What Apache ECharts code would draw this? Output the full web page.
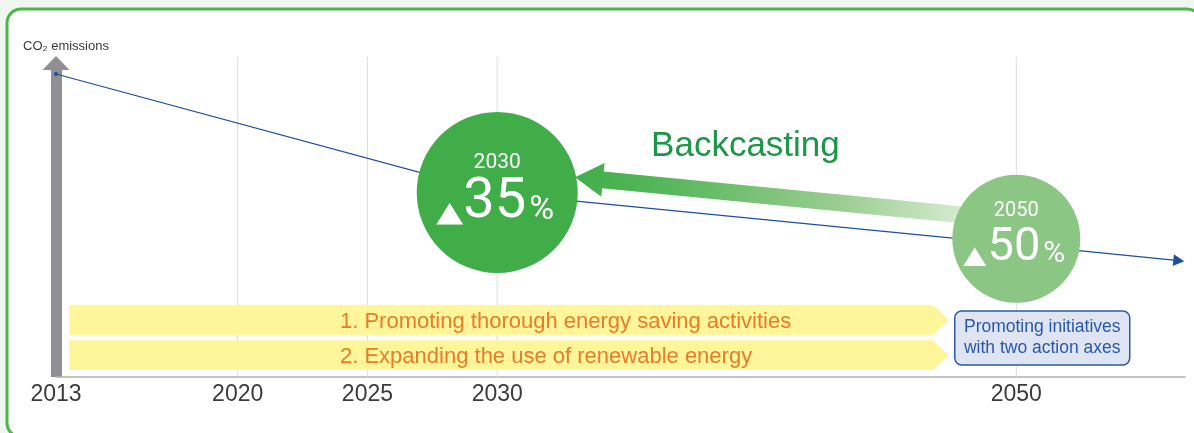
<!DOCTYPE html>
<html>
<head>
<meta charset="utf-8">
<script src="https://cdn.jsdelivr.net/npm/echarts@6/dist/echarts.min.js"></script>
<style>
  html, body { margin: 0; padding: 0; background: #f0f7ef; }
  #chart { width: 1194px; height: 433px; }
</style>
</head>
<body>
<div id="chart"></div>
<script>
// axis
const axisYears = [2013, 2020, 2025, 2030, 2050];
const gridYears = [2020, 2025, 2030, 2050];

// CO2 emission path (index, 2013 origin near top of axis)
const emissionYears = [2013, 2030, 2050, 2056.26];
const emissionLevels = [98.7, 59.8, 43.2, 37.9];

// reduction targets
const targetYears = [2030, 2050];
const targetLevels = [60.1, 45.0];
const targetCuts = [35, 50];

// backcasting arrow (from 2050 target back to 2030)
const backcastFrom = [2050, 51.1];
const backcastTo = [2033, 65.1];
const backcastLabel = "Backcasting";

// the two action axes
const actionLabels = [
  "1. Promoting thorough energy saving activities",
  "2. Expanding the use of renewable energy",
];
const actionStart = [2013.5, 2013.5];
const actionEnd = [2047.4, 2047.4];
const actionTop = [23.5, 12.0];
const actionBottom = [13.7, 2.3];

const noteText = "Promoting initiatives\nwith two action axes";
const notePoint = [2051, 12.7];

// styles
const FONT = "'Liberation Sans', Arial, sans-serif";
const circleStyle = [
  {
    r: 80.5, color: "#41ad49",
    year: { size: 21, dy: -30 },
    tri: { size: 35, dx: -34, dy: 21 },
    num: { size: 56, dx: 29, dy: 10.5 },
    pct: { size: 34, dx: 32, dy: 18 },
  },
  {
    r: 64, color: "#8cc684",
    year: { size: 20, dy: -28 },
    tri: { size: 30, dx: -30, dy: 17.5 },
    num: { size: 47, dx: 24, dy: 9.5 },
    pct: { size: 30, dx: 27, dy: 15.5 },
  },
];

const chart = echarts.init(document.getElementById("chart"));

const emissionData = emissionYears.map((yr, i) => {
  const item = { value: [yr, emissionLevels[i]], symbol: "none" };
  if (i === 0) {
    item.symbol = "circle";
    item.symbolSize = 4;
  } else if (i === emissionYears.length - 1) {
    item.symbol = "triangle";
    item.symbolSize = [12, 11];
    item.symbolRotate = -95.6;
  }
  return item;
});

const whiteText = (x, y, text, font, align) => ({
  type: "text",
  style: { x, y, text, font, fill: "#ffffff", align, verticalAlign: "middle" },
});

const options = {
  animation: false,
  backgroundColor: "#f0f7ef",
  graphic: [
    {
      type: "rect",
      z: -10,
      shape: { x: 7, y: 9, width: 1194, height: 428, r: 14 },
      style: { fill: "#ffffff", stroke: "#4cb64a", lineWidth: 3 },
    },
    {
      type: "text",
      left: 23,
      top: 40,
      style: { text: "CO₂ emissions", font: "13px " + FONT, fill: "#3a3a3a" },
    },
  ],
  grid: { left: 56, right: 9, top: 70, bottom: 56 },
  xAxis: {
    type: "value",
    min: 2013,
    max: 2056.5,
    axisLine: { lineStyle: { color: "#b0b0b0", width: 1.5 } },
    axisTick: { show: false },
    splitLine: { show: false },
    axisLabel: {
      customValues: axisYears,
      fontSize: 23,
      fontFamily: FONT,
      color: "#3b3b3b",
      margin: 6,
      formatter: (v) => String(v),
    },
  },
  yAxis: {
    type: "value",
    min: 0,
    max: 100,
    axisLine: {
      show: true,
      symbol: ["none", "triangle"],
      symbolSize: [27, 14],
      symbolOffset: [0, 7],
      lineStyle: { color: "#909094", width: 11, cap: "butt" },
    },
    axisTick: { show: false },
    axisLabel: { show: false },
    splitLine: { show: false },
  },
  series: [
    {
      name: "Guides",
      type: "custom",
      z: 1,
      silent: true,
      data: gridYears.map((yr) => [yr, 0]),
      renderItem: (params, api) => {
        const x = api.coord([api.value(0), 0])[0];
        const cs = params.coordSys;
        return {
          type: "line",
          shape: { x1: x, y1: cs.y - 13, x2: x, y2: cs.y + cs.height },
          style: { stroke: "#dcdcdc", lineWidth: 1 },
        };
      },
    },
    {
      name: "CO2 emissions",
      type: "line",
      z: 2,
      symbol: "circle",
      showAllSymbol: true,
      data: emissionData,
      itemStyle: { color: "#1d4f9f" },
      lineStyle: { color: "#1d4f9f", width: 1.2 },
    },
    {
      name: "Actions",
      type: "custom",
      z: 3,
      silent: true,
      data: actionLabels.map((_, i) => [actionStart[i], actionEnd[i], actionTop[i], actionBottom[i], i]),
      encode: { x: [0, 1], y: [2, 3] },
      renderItem: (params, api) => {
        const p0 = api.coord([api.value(0), api.value(2)]);
        const p1 = api.coord([api.value(1), api.value(3)]);
        const tip = 16;
        const midY = (p0[1] + p1[1]) / 2;
        return {
          type: "group",
          children: [
            {
              type: "polygon",
              shape: {
                points: [
                  [p0[0], p0[1]],
                  [p1[0] - tip, p0[1]],
                  [p1[0], midY],
                  [p1[0] - tip, p1[1]],
                  [p0[0], p1[1]],
                ],
              },
              style: { fill: "#fff59b" },
            },
            {
              type: "text",
              style: {
                x: p0[0] + 271,
                y: midY + 2,
                text: actionLabels[api.value(4)],
                font: "22px " + FONT,
                fill: "#e87d28",
                align: "left",
                verticalAlign: "middle",
              },
            },
          ],
        };
      },
    },
    {
      name: "Backcasting",
      type: "custom",
      z: 4,
      silent: true,
      data: [[backcastFrom[0], backcastFrom[1], backcastTo[0], backcastTo[1]]],
      encode: { x: [0, 2], y: [1, 3] },
      renderItem: (params, api) => {
        const a = api.coord([api.value(0), api.value(1)]);
        const b = api.coord([api.value(2), api.value(3)]);
        const len = Math.hypot(b[0] - a[0], b[1] - a[1]);
        const d = [(b[0] - a[0]) / len, (b[1] - a[1]) / len];
        const n = [-d[1], d[0]];
        const hw = 8.5, headW = 17, headL = 28;
        const base = [b[0] - d[0] * headL, b[1] - d[1] * headL];
        const pt = (p, k) => [p[0] + n[0] * k, p[1] + n[1] * k];
        return {
          type: "group",
          children: [
            {
              type: "polygon",
              shape: {
                points: [pt(a, hw), pt(base, hw), pt(base, headW), b, pt(base, -headW), pt(base, -hw), pt(a, -hw)],
              },
              style: {
                fill: new echarts.graphic.LinearGradient(a[0], a[1], b[0], b[1], [
                  { offset: 0, color: "#e4f1e1" },
                  { offset: 0.15, color: "#d0e8ca" },
                  { offset: 0.4, color: "#9acd91" },
                  { offset: 0.8, color: "#56b65b" },
                  { offset: 1, color: "#41ad49" },
                ], true),
              },
            },
            {
              type: "text",
              style: {
                x: b[0] + 76,
                y: b[1] - 31,
                text: backcastLabel,
                font: "35px " + FONT,
                fill: "#1c9649",
                align: "left",
                verticalAlign: "middle",
              },
            },
          ],
        };
      },
    },
    {
      name: "Targets",
      type: "custom",
      z: 5,
      silent: true,
      data: targetYears.map((yr, i) => [yr, targetLevels[i], targetCuts[i], i]),
      renderItem: (params, api) => {
        const c = api.coord([api.value(0), api.value(1)]);
        const s = circleStyle[api.value(3)];
        return {
          type: "group",
          children: [
            {
              type: "circle",
              shape: { cx: c[0], cy: c[1], r: s.r },
              style: { fill: s.color },
            },
            whiteText(c[0], c[1] + s.year.dy, String(api.value(0)), s.year.size + "px Roboto", "center"),
            {
              type: "text",
              x: c[0] + s.tri.dx,
              y: c[1] + s.tri.dy,
              scaleY: 0.8,
              style: {
                x: 0, y: 0, text: "▲", font: s.tri.size + "px 'DejaVu Sans'",
                fill: "#ffffff", align: "right", verticalAlign: "middle",
              },
            },
            whiteText(c[0] + s.num.dx, c[1] + s.num.dy, String(api.value(2)), s.num.size + "px Roboto", "right"),
            whiteText(c[0] + s.pct.dx, c[1] + s.pct.dy, "%", s.pct.size + "px Roboto", "left"),
          ],
        };
      },
    },
    {
      name: "Note",
      type: "custom",
      z: 6,
      silent: true,
      data: [notePoint],
      renderItem: (params, api) => {
        const c = api.coord([api.value(0), api.value(1)]);
        const w = 175, h = 54;
        return {
          type: "group",
          children: [
            {
              type: "rect",
              shape: { x: c[0] - w / 2, y: c[1] - h / 2, width: w, height: h, r: 7 },
              style: { fill: "#dfe4f3", stroke: "#2c5aa5", lineWidth: 1.5 },
            },
            {
              type: "text",
              style: {
                x: c[0],
                y: c[1],
                text: noteText,
                font: "17.5px " + FONT,
                lineHeight: 21,
                fill: "#2b58a6",
                align: "center",
                verticalAlign: "middle",
              },
            },
          ],
        };
      },
    },
  ],
};

chart.setOption(options);
</script>
</body>
</html>
